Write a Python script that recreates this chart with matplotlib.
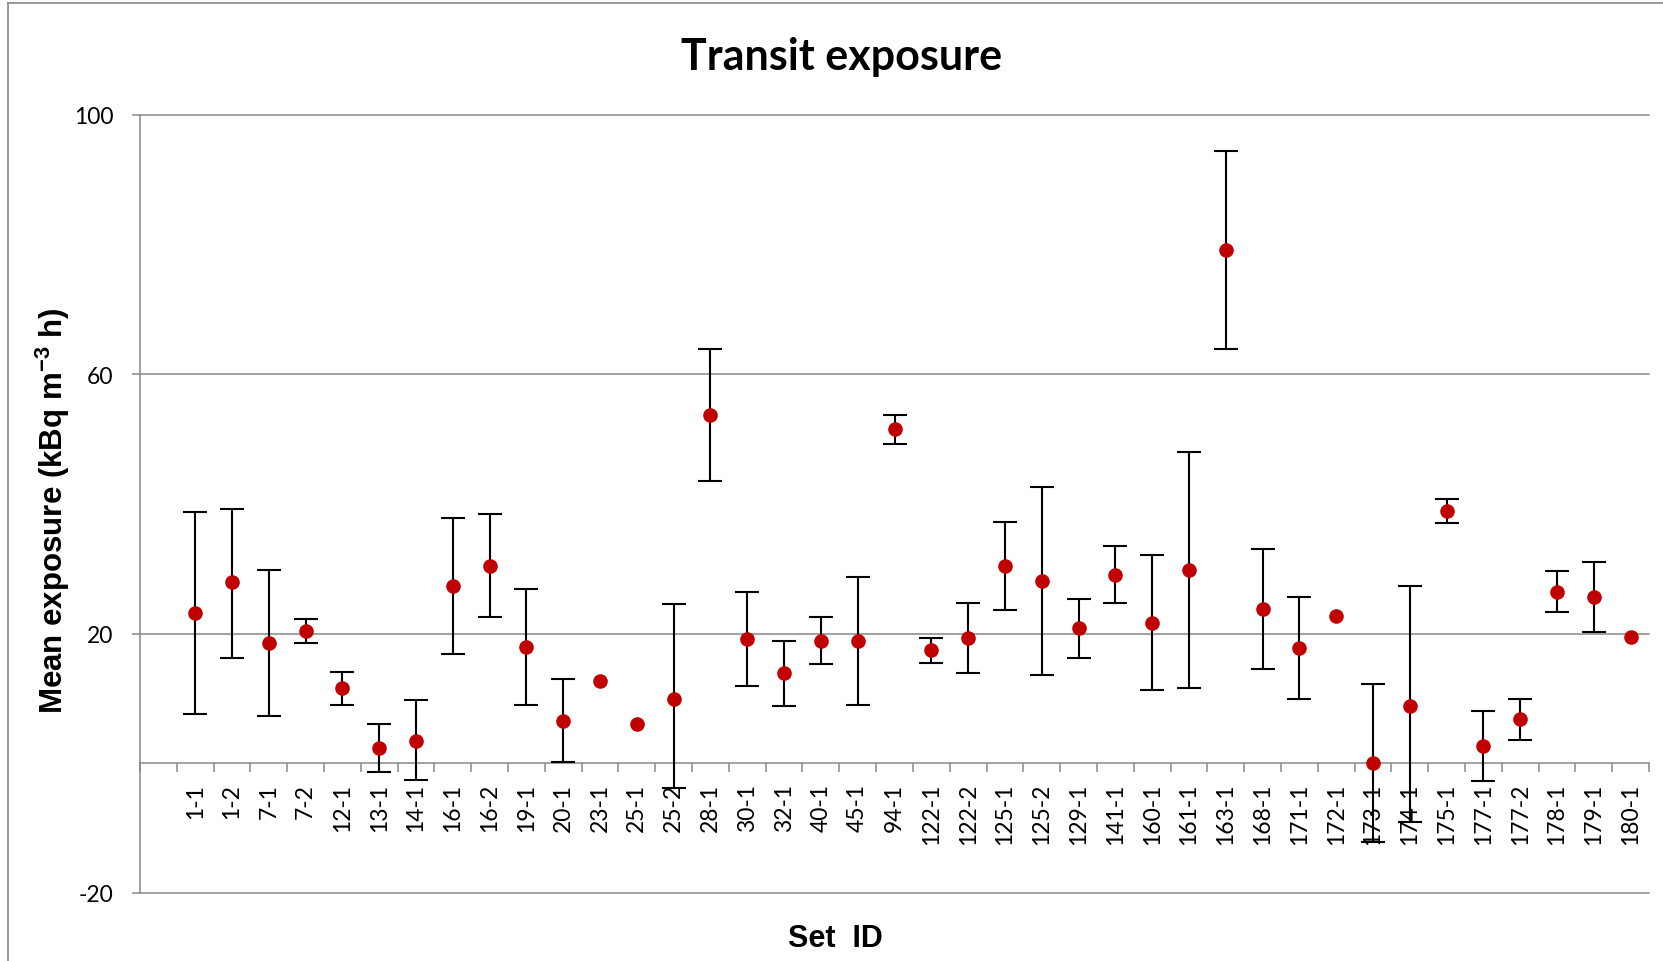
import numpy as np
import matplotlib
matplotlib.use("Agg")
import matplotlib.pyplot as plt
from matplotlib.lines import Line2D

# ---- data -------------------------------------------------------------
set_ids = ["1-1", "1-2", "7-1", "7-2", "12-1", "13-1", "14-1", "16-1", "16-2",
           "19-1", "20-1", "23-1", "25-1", "25-2", "28-1", "30-1", "32-1",
           "40-1", "45-1", "94-1", "122-1", "122-2", "125-1", "125-2",
           "129-1", "141-1", "160-1", "161-1", "163-1", "168-1", "171-1",
           "172-1", "173-1", "174-1", "175-1", "177-1", "177-2", "178-1",
           "179-1", "180-1"]

mean_exposure = [23.2, 27.9, 18.6, 20.4, 11.6, 2.4, 3.5, 27.3, 30.5,
                 18.0, 6.6, 12.7, 6.0, 10.0, 53.7, 19.2, 13.9,
                 18.9, 18.9, 51.5, 17.5, 19.4, 30.5, 28.1,
                 20.8, 29.1, 21.7, 29.8, 79.2, 23.8, 17.8,
                 22.8, 0.0, 8.9, 38.9, 2.7, 6.8, 26.5,
                 25.7, 19.5]

# lower / upper ends of the error bars (None = no bar)
bar_low = [7.6, 16.3, 7.3, 18.6, 9.0, -1.3, -2.5, 16.8, 22.6,
           9.0, 0.25, None, None, -3.8, 43.5, 11.9, 8.8,
           15.3, 9.0, 49.3, 15.5, 14.0, 23.7, 13.6,
           16.2, 24.7, 11.3, 11.6, 63.9, 14.5, 10.0,
           None, -12.2, -9.0, 37.0, -2.7, 3.6, 23.3,
           20.3, None]

bar_high = [38.8, 39.3, 29.8, 22.2, 14.1, 6.1, 9.7, 37.8, 38.4,
            26.9, 13.0, None, None, 24.5, 63.9, 26.4, 18.9,
            22.5, 28.7, 53.7, 19.4, 24.8, 37.3, 42.6,
            25.3, 33.5, 32.1, 48.0, 94.5, 33.1, 25.6,
            None, 12.2, 27.3, 40.8, 8.1, 10.0, 29.7,
            31.0, None]

y_ticks = [-20, 20, 60, 100]

# ---- figure -----------------------------------------------------------
GRID = "#888888"
RED = "#C00000"
TICK_FONT = "Lato"
LABEL_FONT = "Liberation Sans"

plt.rcParams["mathtext.default"] = "regular"

fig = plt.figure(figsize=(16.63, 9.62), dpi=100)
ax = fig.add_axes([140 / 1663, 1 - 894 / 962, 1509 / 1663, 778 / 962])

x = np.arange(1, len(set_ids) + 1)
mean = np.array(mean_exposure, dtype=float)
low = np.array([np.nan if v is None else v for v in bar_low], dtype=float)
high = np.array([np.nan if v is None else v for v in bar_high], dtype=float)
has_bar = ~np.isnan(low)

ax.errorbar(x[has_bar], mean[has_bar],
            yerr=[mean[has_bar] - low[has_bar], high[has_bar] - mean[has_bar]],
            fmt="none", ecolor="black", elinewidth=1.5, capsize=8.5,
            capthick=1.5, zorder=3, clip_on=False)
ax.plot(x, mean, linestyle="none", marker="o", markersize=10.5,
        color=RED, markeredgewidth=0, zorder=4, clip_on=False)

ax.set_xlim(-0.5, len(set_ids) + 0.5)
ax.set_ylim(-20, 100)

# y axis: gridlines every 40, no label at 0
ax.set_yticks(y_ticks)
ax.set_yticklabels([str(v) for v in y_ticks], fontfamily=TICK_FONT, fontsize=16.5)
ax.yaxis.grid(True, color=GRID, linewidth=1.1)
for gl in ax.get_ygridlines():
    gl.set_clip_on(False)
ax.tick_params(axis="y", length=5.8, width=1.1, color=GRID, pad=13.5)

# category axis crossing at zero
ax.spines["bottom"].set_position(("data", 0))
for side in ("top", "right"):
    ax.spines[side].set_visible(False)
for side in ("left", "bottom"):
    ax.spines[side].set_color(GRID)
    ax.spines[side].set_linewidth(1.1)

ax.set_xticks(np.arange(-0.5, len(set_ids) + 1, 1.0))
ax.set_xticklabels([])
ax.set_xticks(x, minor=True)
ax.set_xticklabels(set_ids, minor=True, rotation=90, fontfamily=TICK_FONT,
                   fontsize=16.5, va="top", ha="center")
ax.tick_params(axis="x", which="major", length=6.3, width=1.1, color=GRID,
               direction="out")
ax.tick_params(axis="x", which="minor", length=0, pad=14)
ax.set_axisbelow(True)

# titles and axis captions
fig.text(842 / 1663, 1 - 70 / 962, "Transit exposure", ha="center",
         va="baseline", fontfamily=TICK_FONT, fontweight="bold", fontsize=31)
fig.text(835 / 1663, 1 - 947 / 962, "Set  ID", ha="center", va="baseline",
         fontfamily=LABEL_FONT, fontweight="bold", fontsize=22)
fig.text(53 / 1663, 1 - 511 / 962, r"Mean exposure (kBq m$^{-3}$ h)",
         rotation=90, ha="center", va="center",
         fontfamily=LABEL_FONT, fontweight="bold", fontsize=22.5)

# chart frame
fig.add_artist(Line2D([8 / 1663, 1.0], [1 - 4 / 962, 1 - 4 / 962],
                      transform=fig.transFigure, color=GRID, linewidth=1.2))
fig.add_artist(Line2D([8 / 1663, 8 / 1663], [0.0, 1 - 4 / 962],
                      transform=fig.transFigure, color=GRID, linewidth=1.2))

fig.savefig("out.png", dpi=100, facecolor="white")
